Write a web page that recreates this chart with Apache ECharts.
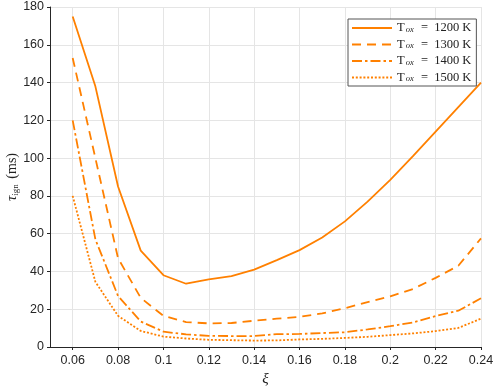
<!DOCTYPE html>
<html>
<head>
<meta charset="utf-8">
<script src="https://cdn.jsdelivr.net/npm/echarts@6/dist/echarts.min.js"></script>
<style>html,body{margin:0;padding:0;background:#fff}#c{width:498px;height:388px}</style>
</head>
<body>
<div id="c"></div>
<script>
const xi = [0.06,0.07,0.08,0.09,0.10,0.11,0.12,0.13,0.14,0.15,0.16,0.17,0.18,0.19,0.20,0.21,0.22,0.23,0.24];
const T1200 = [175,138,85,51,38,33.5,35.8,37.5,41,46,51.3,58,66.5,77,88.5,101,114,127,140];
const T1300 = [153,100,47,26,16.5,13.2,12.5,12.7,13.9,15,16,17.8,20.5,23.8,26.8,30.7,36.6,43,57.5];
const T1400 = [120,57,27,13.5,8.1,6.7,5.9,5.8,5.8,6.8,6.9,7.4,7.8,9.3,11,13,16.4,19.2,25.8];
const T1500 = [80,34.5,16.5,8.5,5.5,4.5,3.8,3.6,3.4,3.5,4,4.3,4.8,5.4,6.3,7.2,8.4,10.1,15];
const xTicks = [0.06,0.08,0.1,0.12,0.14,0.16,0.18,0.2,0.22,0.24];
const seriesNames = ['1200','1300','1400','1500'];
const seriesData = [T1200,T1300,T1400,T1500];
const lineTypes = ['solid',[9,6],[10,3,2.5,3],[2,1.8]];

const color = '#ff8000';
const axisColor = '#262626';
const chart = echarts.init(document.getElementById('c'));
chart.setOption({
  animation:false,
  grid:{left:50,right:17,top:7,bottom:41,containLabel:false,outerBoundsMode:'none'},
  legend:{
    left:348, top:19, orient:'vertical',
    backgroundColor:'#fff', borderColor:'#555', borderWidth:1,
    padding:[2,5,2,3], itemGap:3, itemWidth:40, itemHeight:12,
    itemStyle:{color:'transparent',borderWidth:0,opacity:0},
    data:seriesNames,
    formatter:function(n){return '{t|T}{s|ox}{t|  =  '+n+' K}';},
    textStyle:{
      color:'#222', lineHeight:12,
      rich:{
        t:{fontFamily:'Liberation Serif',fontSize:12.5,color:'#222',lineHeight:12},
        s:{fontFamily:'Liberation Serif',fontStyle:'italic',fontSize:8.5,color:'#222',lineHeight:12,verticalAlign:'bottom',padding:[4,1,0,1]}
      }
    }
  },
  xAxis:{
    type:'value', min:0.05, max:0.24,
    name:'ξ', nameLocation:'middle', nameGap:25, nameMoveOverlap:false,
    nameTextStyle:{fontFamily:'Liberation Serif',fontStyle:'italic',fontSize:15,color:'#222'},
    axisLine:{onZero:false,lineStyle:{color:axisColor,width:1}},
    axisTick:{show:true,inside:false,length:3,customValues:xTicks,lineStyle:{color:axisColor}},
    axisLabel:{customValues:xTicks,fontFamily:'Liberation Sans',fontSize:12.5,color:'#262626',margin:7},
    splitLine:{show:true,lineStyle:{color:'#e5e5e5',width:1}}
  },
  yAxis:{
    type:'value', min:0, max:180, interval:20,
    name:'{tau|τ}{s|ign}{n| (ms)}', nameLocation:'middle', nameGap:30, nameRotate:90, nameMoveOverlap:false,
    nameTextStyle:{
      color:'#222',
      rich:{
        tau:{fontFamily:'Liberation Serif',fontStyle:'italic',fontSize:15,color:'#222'},
        s:{fontFamily:'Liberation Serif',fontSize:9,color:'#222',verticalAlign:'bottom',padding:[5,2,0,0]},
        n:{fontFamily:'Liberation Serif',fontSize:14,color:'#222'}
      }
    },
    axisLine:{show:true,lineStyle:{color:axisColor,width:1}},
    axisTick:{show:true,inside:false,length:3,lineStyle:{color:axisColor}},
    axisLabel:{fontFamily:'Liberation Sans',fontSize:12.5,color:'#262626',margin:6},
    splitLine:{show:true,lineStyle:{color:'#e5e5e5',width:1}}
  },
  series: seriesNames.map((n,i)=>({
    name:n, type:'line', symbol:'none', showSymbol:false,
    data: xi.map((x,j)=>[x,seriesData[i][j]]),
    lineStyle:{color:color,width:1.8,type:lineTypes[i]},
    itemStyle:{color:color}
  }))
});
</script>
</body>
</html>
